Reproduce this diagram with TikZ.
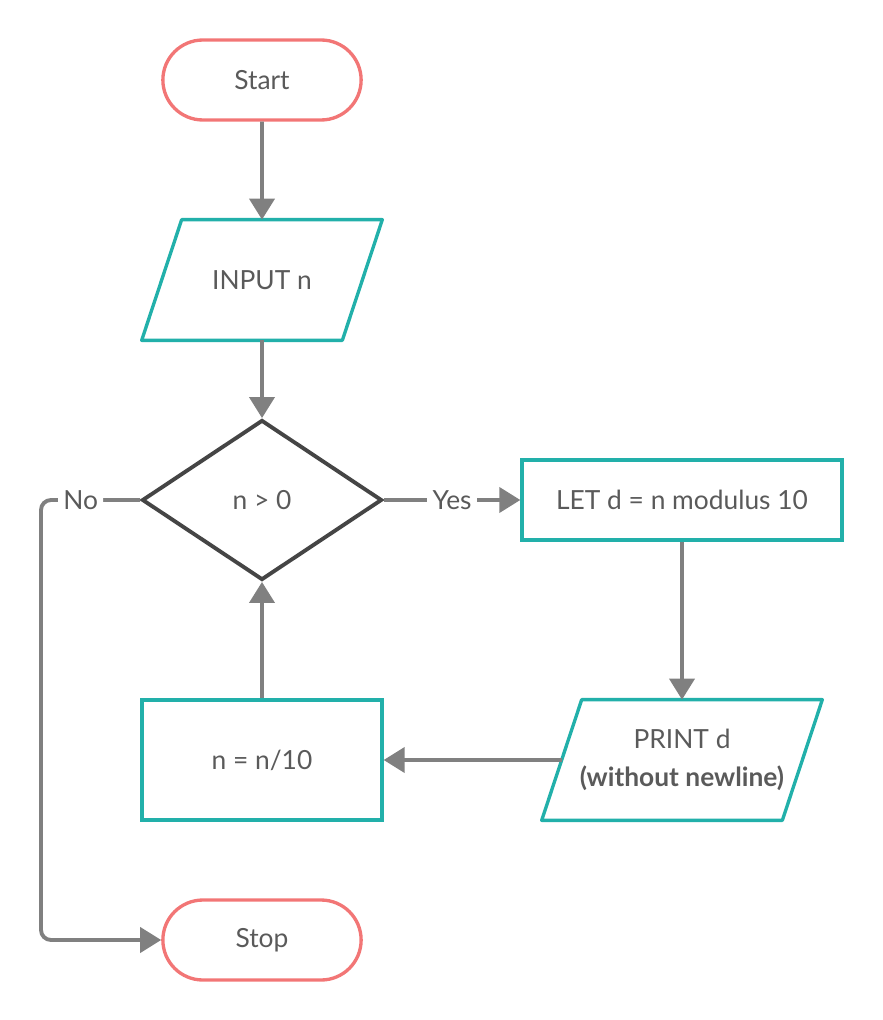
\documentclass[tikz,border=0pt]{standalone}
\usepackage{fontspec}
\setmainfont{Lato}
\usetikzlibrary{arrows.meta,shapes.geometric,shapes.misc}
\definecolor{termred}{HTML}{F27676}
\definecolor{boxteal}{HTML}{22B0AA}
\definecolor{linegray}{HTML}{808080}
\definecolor{decgray}{HTML}{454545}
\definecolor{txtgray}{HTML}{5A5A5A}

\begin{document}
\begin{tikzpicture}[x=0.02cm,y=-0.02cm]

\tikzset{term/.style = {shape=rounded rectangle,draw=termred,line width=1.9pt,minimum width=4.2cm,minimum height=1.6cm,text=txtgray,font=\fontsize{15}{18}\selectfont}}
\tikzset{proc/.style = {shape=rectangle,draw=boxteal,line width=1.9pt,minimum height=1.6cm,text=txtgray,font=\fontsize{15}{18}\selectfont}}
\tikzset{iotext/.style = {shape=rectangle,minimum height=2.4cm,text=txtgray,align=center,font=\fontsize{15}{21.6}\selectfont}}
\tikzset{iobox/.style = {draw=boxteal,line width=1.9pt,line join=round}}
\tikzset{decision/.style = {shape=diamond,draw=decgray,line width=2.2pt,minimum width=4.8cm,minimum height=3.2cm,inner sep=0pt,text=txtgray,font=\fontsize{15}{18}\selectfont}}
\tikzset{edge/.style = {draw=linegray,line width=2.2pt,-{Triangle[length=0.42cm,width=0.5cm]}}}
\tikzset{lbl/.style = {fill=white,inner sep=3pt,text=txtgray,font=\fontsize{15}{18}\selectfont}}

\useasboundingbox (0,0) rectangle (882,1020);

% vertices
\node[term] (start) at (262,80) {Start};
\node[iotext,minimum width=4cm] (inp) at (262,280) {INPUT n};
\node[decision] (dec) at (262,500) {n > 0};
\node[proc,minimum width=6.4cm] (let) at (682,500) {LET d = n modulus 10};
\node[iotext,minimum width=4.8cm] (prt) at (682,760) {PRINT d\\\textbf{(without newline)}};
\node[proc,minimum width=4.8cm,minimum height=2.4cm] (upd) at (262,760) {n = n/10};
\node[term] (stop) at (262,940) {Stop};
\coordinate (nocorner) at (41,500);
\coordinate (stopcorner) at (41,940);

% input/output shapes
\draw[iobox] ([shift={(20,0)}]inp.north west) -- ([shift={(20,0)}]inp.north east) -- ([shift={(-20,0)}]inp.south east) -- ([shift={(-20,0)}]inp.south west) -- cycle;
\draw[iobox] ([shift={(20,0)}]prt.north west) -- ([shift={(20,0)}]prt.north east) -- ([shift={(-20,0)}]prt.south east) -- ([shift={(-20,0)}]prt.south west) -- cycle;

%edges
\draw[edge] (start) -- (inp);
\draw[edge] (inp) -- (dec);
\draw[edge] (dec) -- node[lbl] {Yes} (let);
\draw[edge] (let) -- (prt);
\draw[edge] (prt) -- (upd);
\draw[edge] (upd) -- (dec);
\draw[edge,rounded corners=0.2cm] (dec.west) -- node[lbl,pos=0.6] {No} (nocorner) -- (stopcorner) -- (stop.west);
\end{tikzpicture}
\end{document}
